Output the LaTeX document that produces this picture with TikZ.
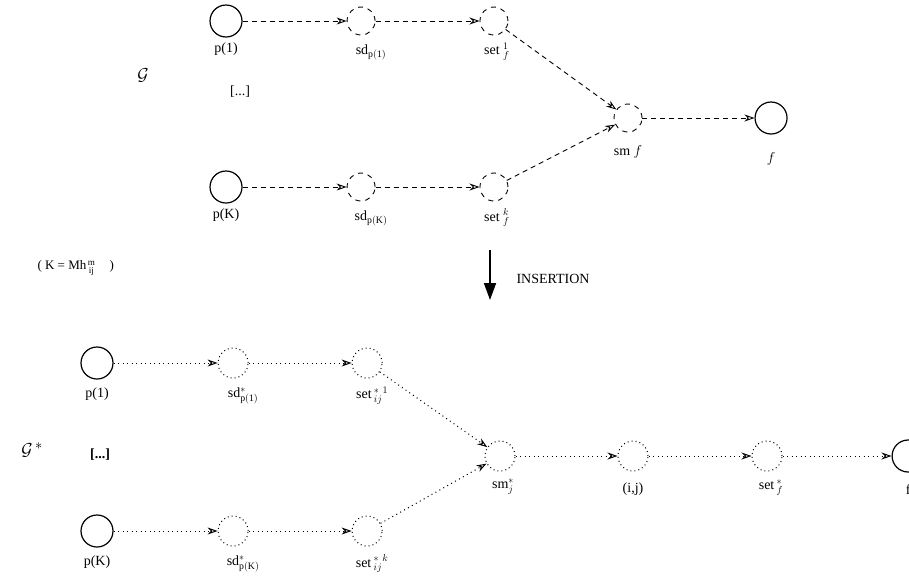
\documentclass[tikz,border=0pt]{standalone}
\usepackage{fontspec}
\setmainfont{Liberation Serif}
\usetikzlibrary{positioning,arrows.meta}

\tikzset{
  ext/.style={circle, draw, line width=1.2pt, minimum size=32pt, inner sep=0pt},
  tmp/.style={circle, draw, line width=0.9pt, dash pattern=on 5pt off 5pt, minimum size=28pt, inner sep=0pt},
  tmpstar/.style={circle, draw, line width=1pt, dash pattern=on 1pt off 3pt, minimum size=30pt, inner sep=0pt},
  flow/.style={line width=0.9pt, dash pattern=on 5pt off 4pt, -{Stealth[open,length=10pt,width=7pt]}},
  flowstar/.style={line width=1pt, dash pattern=on 1pt off 3.5pt, -{Stealth[open,length=10pt,width=7pt]}},
  insert/.style={line width=1.8pt, -{Triangle[length=17pt,width=12pt]}},
  every label/.style={font=\fontsize{14}{16}\selectfont, label distance=2pt},
}

\begin{document}
\begin{tikzpicture}[x=1pt, y=-1pt, node distance=104pt,
  font=\fontsize{14}{16}\selectfont]
\useasboundingbox (0,0) rectangle (909,582);

% graph G
\node[ext, label=below:p(1)] (p1) at (226,21) {};
\node[tmp, right=of p1, label={[xshift=10pt, label distance=6pt]below:sd\(_{\mathrm{p(1)}}\)}] (sd1) {};
\node[tmp, right=of sd1, label={[xshift=3pt, label distance=4pt]below:set \(^{1}_{f}\)}] (set1) {};

\node[ext, label=below:p(K)] (pK) at (226,187) {};
\node[tmp, right=of pK, label={[xshift=10pt, label distance=6pt]below:sd\(_{\mathrm{p(K)}}\)}] (sdK) {};
\node[tmp, right=of sdK, label={[xshift=3pt, label distance=4pt]below:set \(^{k}_{f}\)}] (setK) {};

\node[tmp, label={[label distance=10pt]below:sm \(f\)}] (smf) at (628,118) {};
\node[ext, right=112pt of smf, label={[label distance=14pt]below:\(f\)}] (f) {};

\node (G) at (143,75) {\fontsize{19}{21}\selectfont\(\mathcal{G}\)};
\node (dots) at (240,92) {[...]};

\node[anchor=west] (K) at (34,268)
  {\fontsize{13}{15}\selectfont ( K = Mh\(^{\,\mathrm{m}}_{\;\mathrm{ij}}\)\;\;\; )};

% insertion
\coordinate (instop) at (490,250);
\coordinate[below=50pt of instop] (insbot);
\node[anchor=west] (ins) at (513,279) {\fontsize{14}{16}\selectfont INSERTION};

% graph G*
\node[ext, label={[label distance=5pt]below:p(1)}] (p1s) at (97,363) {};
\node[tmpstar, right=of p1s, label={[xshift=10pt, label distance=6pt]below:sd\(^{*}_{\mathrm{p(1)}}\)}] (sd1s) {};
\node[tmpstar, right=103pt of sd1s, label={[xshift=5pt, label distance=5pt]below:set\,\(^{*}_{ij}{}^{1}\)}] (set1s) {};

\node[ext, label={[label distance=5pt]below:p(K)}] (pKs) at (97,531) {};
\node[tmpstar, right=of pKs, label={[xshift=10pt, label distance=6pt]below:sd\(^{*}_{\mathrm{p(K)}}\)}] (sdKs) {};
\node[tmpstar, right=103pt of sdKs, label={[xshift=5pt, label distance=5pt]below:set\,\(^{*}_{ij}{}^{k}\)}] (setKs) {};

\node[tmpstar, label={[xshift=3pt, label distance=4pt]below:sm\(^{*}_{j}\)}] (smj) at (500,456) {};
\node[tmpstar, right=102pt of smj, label={[label distance=8pt]below:(i,j)}] (ij) {};
\node[tmpstar, right=103pt of ij, label={[xshift=4pt, label distance=5pt]below:set\,\(^{*}_{f}\)}] (setfs) {};
\node[ext, right=109pt of setfs, label={[label distance=8pt]below:f}] (fs) {};

\node (Gs) at (32,450) {\fontsize{19}{21}\selectfont\(\mathcal{G}^{\,*}\)};
\node (dotss) at (100,455) {\bfseries [...]};

% connectors
\draw[flow] (p1) -- (sd1);
\draw[flow] (sd1) -- (set1);
\draw[flow] (pK) -- (sdK);
\draw[flow] (sdK) -- (setK);
\draw[flow] (set1) -- (smf);
\draw[flow] (setK) -- (smf);
\draw[flow] (smf) -- (f);

\draw[insert] (instop) -- (insbot);

\draw[flowstar] (p1s) -- (sd1s);
\draw[flowstar] (sd1s) -- (set1s);
\draw[flowstar] (pKs) -- (sdKs);
\draw[flowstar] (sdKs) -- (setKs);
\draw[flowstar] (set1s) -- (smj);
\draw[flowstar] (setKs) -- (smj);
\draw[flowstar] (smj) -- (ij);
\draw[flowstar] (ij) -- (setfs);
\draw[flowstar] (setfs) -- (fs);
\end{tikzpicture}
\end{document}
